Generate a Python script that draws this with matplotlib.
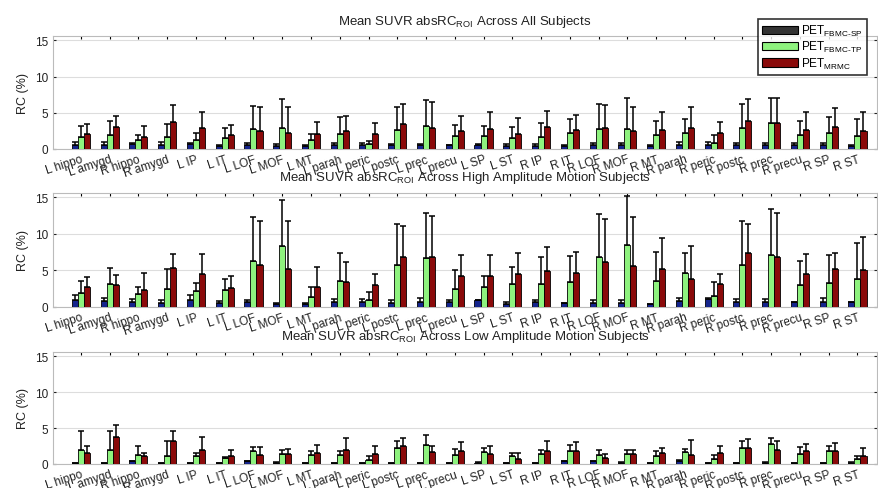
import numpy as np
import matplotlib.pyplot as plt
from matplotlib.patches import Patch

plt.rcParams['font.family'] = ['Liberation Sans', 'DejaVu Sans']

rois = ['L hippo', 'L amygd', 'R hippo', 'R amygd', 'L IP', 'L IT', 'L LOF', 'L MOF',
        'L MT', 'L parah', 'L peric', 'L postc', 'L prec', 'L precu', 'L SP', 'L ST',
        'R IP', 'R IT', 'R LOF', 'R MOF', 'R MT', 'R parah', 'R peric', 'R postc',
        'R prec', 'R precu', 'R SP', 'R ST']

series_names = ['PET$_{\\mathregular{FBMC\u2010SP}}$', 'PET$_{\\mathregular{FBMC\u2010TP}}$',
                'PET$_{\\mathregular{MRMC}}$']

titles = ['All Subjects', 'High Amplitude Motion Subjects', 'Low Amplitude Motion Subjects']

# all subjects
all_sp = [0.6, 0.6, 0.7, 0.55, 0.65, 0.45, 0.6, 0.45, 0.45, 0.6, 0.55, 0.6, 0.6, 0.55,
          0.6, 0.45, 0.45, 0.45, 0.55, 0.55, 0.45, 0.6, 0.6, 0.6, 0.6, 0.55, 0.55, 0.45]
all_sp_err = [0.3, 0.3, 0.15, 0.35, 0.2, 0.05, 0.25, 0.2, 0.05, 0.25, 0.3, 0.1, 0.1, 0.05,
              0.1, 0.2, 0.2, 0.05, 0.25, 0.25, 0.05, 0.35, 0.35, 0.25, 0.25, 0.3, 0.3, 0.05]
all_tp = [1.6, 2.0, 1.2, 1.6, 1.2, 1.55, 2.8, 2.95, 1.25, 2.1, 0.65, 2.6, 3.2, 1.85,
          1.85, 1.5, 1.7, 2.25, 2.7, 2.8, 1.95, 2.15, 0.85, 2.9, 3.55, 2.0, 2.2, 1.75]
all_tp_err = [1.6, 1.9, 0.8, 1.8, 1.0, 1.4, 3.2, 4.0, 0.85, 2.3, 0.5, 3.15, 3.5, 1.5,
              1.35, 1.5, 1.9, 1.95, 3.5, 4.2, 1.9, 2.0, 1.05, 3.25, 3.55, 1.9, 2.15, 2.4]
all_mr = [2.1, 3.1, 1.7, 3.7, 2.85, 1.95, 2.5, 2.25, 2.1, 2.5, 2.05, 3.4, 2.95, 2.5,
          2.75, 2.1, 3.0, 2.65, 2.85, 2.45, 2.6, 2.85, 2.25, 3.9, 3.6, 2.6, 3.1, 2.5]
all_mr_err = [1.4, 1.5, 1.5, 2.4, 2.3, 1.35, 3.25, 3.5, 1.6, 2.0, 1.55, 2.85, 3.5, 2.1,
              2.3, 2.2, 2.3, 2.0, 3.2, 3.35, 2.45, 3.0, 1.45, 2.95, 3.5, 2.45, 2.5, 2.65]

# high amplitude motion
high_sp = [0.95, 0.8, 0.7, 0.5, 0.95, 0.6, 0.65, 0.4, 0.45, 0.75, 0.75, 0.6, 0.7, 0.7,
           0.9, 0.4, 0.7, 0.5, 0.6, 0.6, 0.4, 0.8, 1.15, 0.75, 0.75, 0.65, 0.75, 0.65]
high_sp_err = [0.65, 0.4, 0.4, 0.5, 0.65, 0.25, 0.25, 0.2, 0.05, 0.4, 0.4, 0.3, 0.5, 0.3,
               0.05, 0.3, 0.25, 0.05, 0.3, 0.3, 0.05, 0.45, 0.05, 0.35, 0.35, 0.05, 0.5, 0.05]
high_tp = [1.85, 3.15, 1.75, 2.45, 2.25, 2.35, 6.3, 8.4, 1.35, 3.5, 1.0, 5.7, 6.65, 2.45,
           2.7, 3.2, 3.1, 3.45, 6.8, 8.5, 3.6, 4.6, 1.55, 5.7, 7.15, 2.95, 3.35, 3.8]
high_tp_err = [1.65, 2.25, 1.0, 2.7, 1.1, 1.45, 5.95, 6.3, 1.35, 3.9, 1.0, 5.7, 6.25, 2.6,
               1.6, 2.3, 3.8, 3.5, 5.95, 6.75, 3.9, 2.8, 1.9, 6.1, 6.2, 3.35, 3.7, 4.95]
high_mr = [2.75, 2.95, 2.35, 5.4, 4.55, 2.6, 5.8, 5.25, 2.8, 3.4, 2.95, 6.8, 6.8, 4.2,
           4.3, 4.5, 4.95, 4.6, 6.1, 5.6, 5.15, 3.85, 3.1, 7.35, 6.85, 4.5, 5.2, 5.1]
high_mr_err = [1.4, 1.45, 2.25, 1.9, 2.65, 1.65, 6.0, 6.55, 2.7, 2.75, 1.6, 4.25, 5.7, 2.85,
               2.85, 2.85, 3.25, 2.9, 6.0, 6.7, 4.3, 4.45, 1.35, 3.95, 5.95, 2.8, 2.2, 4.45]

# low amplitude motion
low_sp = [0.15, 0.15, 0.35, 0.15, 0.15, 0.1, 0.4, 0.2, 0.1, 0.1, 0.15, 0.1, 0.15, 0.15,
          0.2, 0.15, 0.15, 0.4, 0.4, 0.2, 0.15, 0.4, 0.15, 0.15, 0.2, 0.15, 0.15, 0.2]
low_sp_err = [0.03, 0.03, 0.03, 0.03, 0.03, 0.03, 0.03, 0.03, 0.03, 0.03, 0.03, 0.03, 0.03, 0.03,
              0.03, 0.03, 0.03, 0.03, 0.03, 0.03, 0.03, 0.15, 0.03, 0.03, 0.03, 0.03, 0.03, 0.03]
low_tp = [1.95, 1.95, 1.3, 1.15, 1.05, 0.8, 1.75, 1.35, 1.3, 1.25, 0.55, 2.2, 2.7, 1.3,
          1.65, 1.05, 1.45, 1.75, 1.3, 1.35, 1.1, 1.65, 0.75, 2.2, 2.75, 1.45, 1.85, 0.75]
low_tp_err = [2.65, 2.7, 1.25, 2.1, 0.55, 0.2, 0.55, 0.6, 0.5, 0.55, 0.5, 1.05, 1.3, 0.8,
              0.6, 0.45, 0.5, 0.85, 0.7, 0.6, 0.7, 0.45, 0.45, 1.05, 0.85, 0.85, 0.7, 0.3]
low_mr = [1.5, 3.75, 1.1, 3.25, 2.0, 1.05, 1.3, 1.35, 1.6, 2.0, 1.45, 2.55, 1.65, 1.75,
          1.45, 0.75, 1.75, 1.8, 0.8, 1.35, 1.5, 1.25, 1.6, 2.2, 2.0, 1.75, 1.8, 1.1]
low_mr_err = [1.05, 1.7, 0.45, 1.35, 1.75, 0.9, 1.05, 0.75, 1.0, 1.65, 1.05, 1.1, 0.8, 1.3,
              1.1, 0.85, 1.45, 1.2, 0.6, 0.55, 0.75, 2.1, 0.9, 1.3, 1.2, 1.1, 1.15, 1.15]

panels = [
    [(all_sp, all_sp_err), (all_tp, all_tp_err), (all_mr, all_mr_err)],
    [(high_sp, high_sp_err), (high_tp, high_tp_err), (high_mr, high_mr_err)],
    [(low_sp, low_sp_err), (low_tp, low_tp_err), (low_mr, low_mr_err)],
]

bar_colors = ['#14248c', '#8ef27e', '#8a0a0a']
legend_colors = ['#333333', '#8ef27e', '#8a0a0a']

fig = plt.figure(figsize=(8.79, 4.89), dpi=100)
boxes = [(37, 150), (194, 308), (353, 465)]
x = np.arange(1, len(rois) + 1)
w = 0.21

for k, (top, bot) in enumerate(boxes):
    ax = fig.add_axes([53 / 879, 1 - bot / 489, (877 - 53) / 879, (bot - top) / 489])
    for j, (vals, errs) in enumerate(panels[k]):
        xs = x + (j - 1) * w
        ax.bar(xs, vals, width=w, color=bar_colors[j], edgecolor='black', linewidth=0.6, zorder=3)
        ax.errorbar(xs, vals, yerr=[np.zeros(len(errs)), errs], fmt='none', ecolor='black',
                    elinewidth=1.1, capsize=2.5, capthick=1.1, zorder=4)
    ax.set_xlim(0.03, 28.68)
    ax.set_ylim(0, 15.6)
    ax.set_yticks([0, 5, 10, 15])
    ax.set_xticks(x)
    ax.set_xticklabels(rois, rotation=18, ha='right', rotation_mode='anchor', fontsize=8.5,
                       color='#222222')
    ax.tick_params(axis='y', labelsize=8.5, colors='#222222', direction='in', length=2)
    ax.tick_params(axis='x', direction='in', length=2, top=True, pad=3)
    ax.yaxis.set_tick_params(right=True)
    ax.grid(axis='y', color='#dddddd', linewidth=0.8, zorder=0)
    for s in ax.spines.values():
        s.set_color('#bbbbbb')
        s.set_linewidth(0.8)
    ax.set_ylabel('RC (%)', fontsize=9, color='#222222', labelpad=4)
    ax.set_title('Mean SUVR absRC$_{\\mathregular{ROI}}$ Across ' + titles[k], fontsize=9.5,
                 color='#222222', pad=9)

handles = [Patch(facecolor=c, edgecolor='black', linewidth=0.8) for c in legend_colors]
leg = fig.legend(handles, series_names, loc='upper right', bbox_to_anchor=(873 / 879, 1 - 14 / 489),
                 fontsize=8.5, frameon=True, fancybox=False, edgecolor='black',
                 handlelength=3.0, handleheight=0.7, handletextpad=0.3, labelspacing=0.1,
                 borderpad=0.35)
leg.get_frame().set_linewidth(1.2)

fig.savefig('out.png', dpi=100)
